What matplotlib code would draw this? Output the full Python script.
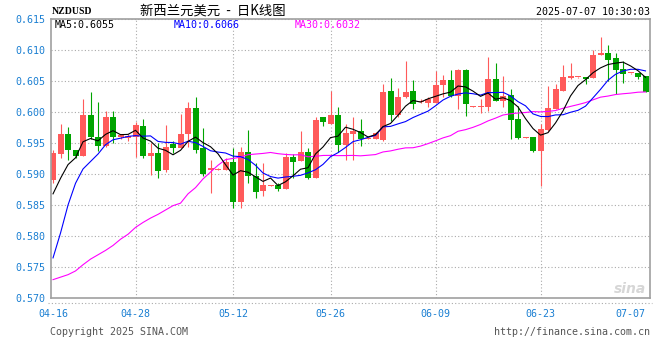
import numpy as np
import pandas as pd
import matplotlib
matplotlib.use("Agg")
import matplotlib.pyplot as plt
from matplotlib.lines import Line2D

# daily NZDUSD candles, 04-16 .. 07-07
opens = [0.5891, 0.5932, 0.5965, 0.5939, 0.5929, 0.5994, 0.5960, 0.5945, 0.5991, 0.5959,
         0.5958, 0.5960, 0.5977, 0.5929, 0.5934, 0.5907, 0.5948, 0.5942, 0.5964, 0.6006,
         0.5941, 0.5906, 0.5907, 0.5906, 0.5919, 0.5855, 0.5935, 0.5897, 0.5873, 0.5881,
         0.5882, 0.5875, 0.5927, 0.5921, 0.5935, 0.5894, 0.5991, 0.5981, 0.5994, 0.5946,
         0.5964, 0.5969, 0.5957, 0.5957, 0.5954, 0.6033, 0.5994, 0.6023, 0.6033, 0.6016,
         0.6014, 0.6014, 0.6043, 0.6051, 0.6026, 0.6067, 0.6008, 0.6008, 0.6008, 0.6053,
         0.6017, 0.6027, 0.5988, 0.5958, 0.5959, 0.5937, 0.5970, 0.6004, 0.6033, 0.6054,
         0.6056, 0.6056, 0.6054, 0.6091, 0.6094, 0.6086, 0.6068, 0.6062, 0.6062, 0.6057]
highs = [0.5939, 0.5980, 0.5975, 0.5939, 0.6020, 0.6032, 0.6015, 0.6002, 0.6002, 0.5964,
         0.5964, 0.5983, 0.5988, 0.5950, 0.5950, 0.5979, 0.5953, 0.5997, 0.6015, 0.6024,
         0.5974, 0.5923, 0.5909, 0.5925, 0.5941, 0.5943, 0.5971, 0.5917, 0.5918, 0.5882,
         0.5885, 0.5933, 0.5932, 0.5969, 0.5942, 0.5991, 0.5991, 0.6033, 0.6007, 0.5980,
         0.5991, 0.5989, 0.5958, 0.5968, 0.6044, 0.6055, 0.6039, 0.6081, 0.6051, 0.6020,
         0.6023, 0.6065, 0.6059, 0.6067, 0.6068, 0.6069, 0.6009, 0.6020, 0.6088, 0.6079,
         0.6057, 0.6036, 0.6009, 0.5959, 0.5959, 0.5980, 0.6041, 0.6044, 0.6075, 0.6078,
         0.6056, 0.6056, 0.6100, 0.6121, 0.6107, 0.6094, 0.6081, 0.6062, 0.6062, 0.6057]
lows = [0.5885, 0.5925, 0.5923, 0.5925, 0.5929, 0.5956, 0.5937, 0.5944, 0.5950, 0.5957,
        0.5953, 0.5928, 0.5926, 0.5899, 0.5894, 0.5903, 0.5934, 0.5941, 0.5944, 0.5933,
        0.5897, 0.5869, 0.5907, 0.5906, 0.5846, 0.5845, 0.5886, 0.5861, 0.5864, 0.5881,
        0.5873, 0.5875, 0.5894, 0.5921, 0.5892, 0.5893, 0.5977, 0.5981, 0.5935, 0.5922,
        0.5923, 0.5945, 0.5957, 0.5957, 0.5953, 0.5985, 0.5991, 0.6022, 0.6005, 0.6014,
        0.6007, 0.6014, 0.6023, 0.6023, 0.6004, 0.5993, 0.6008, 0.5998, 0.6002, 0.6017,
        0.6008, 0.5957, 0.5957, 0.5958, 0.5935, 0.5881, 0.5969, 0.6004, 0.6033, 0.6053,
        0.6055, 0.6044, 0.6054, 0.6091, 0.6049, 0.6028, 0.6046, 0.6061, 0.6052, 0.6031]
closes = [0.5933, 0.5964, 0.5939, 0.5929, 0.5994, 0.5959, 0.5945, 0.5991, 0.5959, 0.5962,
          0.5961, 0.5978, 0.5929, 0.5934, 0.5905, 0.5944, 0.5942, 0.5965, 0.6006, 0.5939,
          0.5900, 0.5909, 0.5908, 0.5919, 0.5855, 0.5935, 0.5897, 0.5871, 0.5882, 0.5882,
          0.5875, 0.5927, 0.5919, 0.5935, 0.5894, 0.5986, 0.5983, 0.5994, 0.5947, 0.5966,
          0.5969, 0.5957, 0.5958, 0.5966, 0.6031, 0.5994, 0.6023, 0.6031, 0.6012, 0.6018,
          0.6020, 0.6043, 0.6051, 0.6026, 0.6067, 0.6013, 0.6009, 0.6009, 0.6053, 0.6017,
          0.6025, 0.5986, 0.5958, 0.5959, 0.5937, 0.5972, 0.6006, 0.6036, 0.6056, 0.6057,
          0.6056, 0.6053, 0.6092, 0.6095, 0.6084, 0.6067, 0.6061, 0.6062, 0.6056, 0.6031]

ma5_head = [0.5868, 0.5893, 0.5915, 0.5926]
ma10_head = [0.5765, 0.5805, 0.5850, 0.5885, 0.5908, 0.5920, 0.5932, 0.5947, 0.5955]
ma30_head = [0.5730, 0.5734, 0.5738, 0.5744, 0.5754, 0.5763, 0.5770, 0.5777, 0.5785, 0.5795,
             0.5803, 0.5814, 0.5822, 0.5829, 0.5835, 0.5842, 0.5849, 0.5853, 0.5868, 0.5878,
             0.5892, 0.5903, 0.5914, 0.5923, 0.5925, 0.5927, 0.5931, 0.5932, 0.5933]

tick_idx = [0, 11, 24, 37, 51, 65, 79]
tick_labels = ["04-16", "04-28", "05-12", "05-26", "06-09", "06-23", "07-07"]
y_ticks = [0.570, 0.575, 0.580, 0.585, 0.590, 0.595, 0.600, 0.605, 0.610, 0.615]

RED = "#ff5a5a"
GREEN = "#00a400"
BLUE_TXT = "#1a7fd2"
MONO = "DejaVu Sans Mono"

W, H = 660, 360


def fx(x):
    return x / W


def fy(y):
    return 1 - y / H


def moving_avg(vals, n, head):
    out = pd.Series(vals).rolling(n).mean().to_numpy()
    out[:n - 1] = head
    return out


def main():
    o = np.array(opens)
    h = np.array(highs)
    l = np.array(lows)
    c = np.array(closes)
    x = np.arange(len(c))

    fig = plt.figure(figsize=(6.6, 3.6), dpi=100)
    ax = fig.add_axes([fx(50.7), fy(298.3), fx(650) - fx(50.7), fy(18.5) - fy(298.3)])
    ax.set_xlim(-0.31, 79.6)
    ax.set_ylim(0.570, 0.615)

    # grid
    ax.set_yticks(y_ticks)
    ax.set_yticklabels([f"{v:.3f}" for v in y_ticks])
    ax.yaxis.grid(True, color="#aaaaaa", linestyle=(0, (1, 2)), lw=0.8)
    for t in tick_idx[1:-1]:
        ax.axvline(t, color="#aaaaaa", linestyle=(0, (1, 2)), lw=0.8, zorder=0.5)
    ax.set_axisbelow(True)

    # candles
    colors = np.where(c >= o, RED, GREEN)
    ax.vlines(x, l, h, colors=colors, lw=0.8, zorder=2)
    body_h = np.maximum(np.abs(c - o), 0.00014)
    ax.bar(x, body_h, bottom=np.minimum(o, c), width=0.8, color=colors, lw=0, zorder=2)

    # moving averages
    ax.plot(x, moving_avg(c, 30, ma30_head), color="#ff00ff", lw=0.8, zorder=3)
    ax.plot(x, moving_avg(c, 10, ma10_head), color="#0000ff", lw=0.8, zorder=3)
    ax.plot(x, moving_avg(c, 5, ma5_head), color="black", lw=0.8, zorder=4)

    ax.set_xticks(tick_idx)
    ax.set_xticklabels(tick_labels)
    ax.get_xticklabels()[-1].set_ha("right")
    ax.tick_params(axis="x", length=0, pad=8, labelsize=7.2, labelcolor=BLUE_TXT)
    ax.tick_params(axis="y", length=0, pad=4, labelsize=7.2, labelcolor=BLUE_TXT)
    for lab in ax.get_xticklabels() + ax.get_yticklabels():
        lab.set_family(MONO)

    for sp in ax.spines.values():
        sp.set_color("#a0a0a0")
        sp.set_linewidth(1.2)

    # dotted line under the plot
    fig.add_artist(Line2D([fx(48), fx(652)], [fy(302.5), fy(302.5)], color="#aaaaaa",
                          lw=0.8, linestyle=(0, (1, 2))))

    # header
    fig.text(fx(52), fy(12), "NZDUSD", family="Liberation Serif", weight="bold",
             size=7, va="center")
    fig.text(fx(140), fy(10.5), "新西兰元美元  -  日K线图",
             family=["Noto Sans CJK SC", "DejaVu Sans"], size=9.6, va="center")
    fig.text(fx(650), fy(12), "2025-07-07 10:30:03", family=MONO, size=7.2,
             ha="right", va="center")

    fig.text(fx(55), fy(24.5), "MA5:0.6055", family=MONO, size=7.2, va="center", color="black")
    fig.text(fx(174), fy(24.5), "MA10:0.6066", family=MONO, size=7.2, va="center", color="#0000ff")
    fig.text(fx(295), fy(24.5), "MA30:0.6032", family=MONO, size=7.2, va="center", color="#ff00ff")

    # footer
    fig.text(fx(50), fy(332), "Copyright 2025 SINA.COM", family=MONO, size=7.2,
             va="center", color="#555555")
    fig.text(fx(650), fy(332), "http://finance.sina.com.cn", family=MONO, size=7.2,
             ha="right", va="center", color="#555555")
    fig.text(fx(630), fy(289), "sina", size=10, weight="bold", style="italic",
             ha="center", va="center", color="#d6d6d6")

    fig.savefig("out.png", dpi=100)


if __name__ == "__main__":
    main()
